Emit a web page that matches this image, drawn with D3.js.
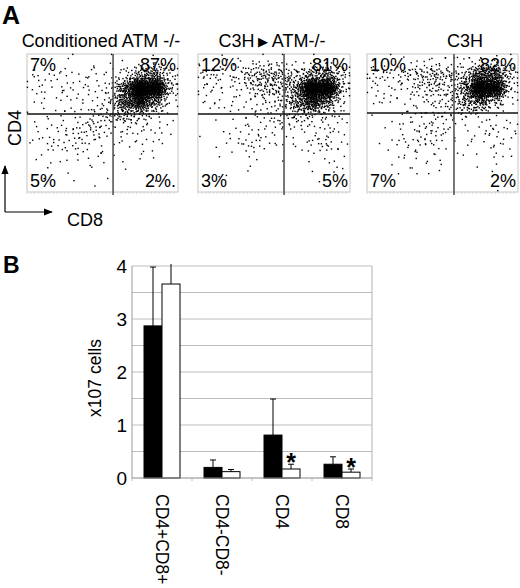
<!DOCTYPE html>
<html>
<head>
<meta charset="utf-8">
<script src="https://cdn.jsdelivr.net/npm/d3@7"></script>
<style>
  body { margin: 0; background: #fff; }
  svg { display: block; font-family: Arial, "Liberation Sans", sans-serif; }
</style>
</head>
<body>
<div id="chart"></div>
<script>
// ---- panel A: flow cytometry plots, event counts per 10x10 grid cell (row 0 = top)
const panelTitles = ['Conditioned ATM -/-', 'C3H', 'C3H'];
const quadLabels = [
  ['7%', '87%', '5%', '2%.'],
  ['12%', '81%', '3%', '5%'],
  ['10%', '82%', '7%', '2%']
];
const gateX = [5.7, 5.66, 5.76];
const gateY = [4.35, 4.35, 4.28];

const densityATM = [
  [0, 0, 1, 1, 1, 2, 1, 1, 2, 1],
  [6, 5, 6, 4, 4, 5, 10, 45, 70, 12],
  [6, 4, 5, 5, 6, 8, 90, 440, 360, 20],
  [3, 2, 3, 4, 5, 12, 110, 190, 55, 4],
  [2, 3, 3, 5, 10, 20, 35, 14, 6, 2],
  [2, 4, 6, 14, 16, 8, 5, 6, 4, 2],
  [2, 6, 8, 8, 6, 3, 3, 4, 3, 1],
  [1, 3, 3, 3, 2, 2, 1, 2, 1, 0],
  [0, 2, 1, 1, 1, 1, 1, 0, 0, 0],
  [0, 0, 0, 1, 1, 0, 0, 0, 1, 0]
];
const densityChimera = [
  [1, 2, 2, 2, 3, 3, 2, 2, 3, 1],
  [14, 8, 10, 30, 45, 40, 22, 45, 70, 20],
  [8, 6, 6, 18, 35, 30, 60, 400, 350, 15],
  [3, 3, 4, 6, 8, 15, 70, 170, 60, 6],
  [1, 2, 3, 4, 8, 14, 20, 12, 8, 3],
  [1, 1, 4, 6, 6, 4, 4, 6, 8, 3],
  [1, 1, 3, 12, 5, 2, 2, 8, 12, 3],
  [0, 1, 2, 2, 1, 1, 1, 2, 4, 1],
  [0, 1, 0, 1, 0, 0, 0, 1, 2, 1],
  [0, 0, 0, 0, 0, 0, 0, 0, 1, 0]
];
const densityC3H = [
  [2, 3, 3, 3, 3, 3, 3, 2, 3, 1],
  [12, 8, 14, 30, 35, 25, 30, 110, 110, 18],
  [6, 5, 8, 14, 20, 20, 55, 400, 280, 10],
  [3, 3, 4, 6, 10, 15, 50, 75, 15, 3],
  [1, 1, 3, 6, 10, 8, 8, 5, 3, 1],
  [0, 1, 4, 8, 12, 5, 2, 4, 8, 4],
  [0, 3, 7, 10, 8, 2, 1, 3, 6, 3],
  [0, 1, 3, 4, 3, 1, 1, 2, 3, 2],
  [0, 0, 1, 2, 1, 1, 0, 0, 1, 0],
  [0, 0, 0, 0, 0, 0, 0, 0, 1, 0]
];
const densities = [densityATM, densityChimera, densityC3H];

// ---- panel B: bar chart
const groups = ['CD4+CD8+', 'CD4-CD8-', 'CD4', 'CD8'];
const atmValues = [2.87, 0.20, 0.81, 0.26];
const atmErrors = [1.11, 0.14, 0.68, 0.14];
const c3hValues = [3.66, 0.12, 0.17, 0.11];
const c3hErrors = [0.45, 0.04, 0.09, 0.06];
const significant = [false, false, true, true];
const yTicks = [0, 1, 2, 3, 4];

const W = 520, H = 588;
const svg = d3.select('#chart').append('svg').attr('width', W).attr('height', H);

// panel letters
svg.append('text').attr('x', 2).attr('y', 24).attr('font-size', 25).attr('font-weight', 'bold').text('A');
svg.append('text').attr('x', 3).attr('y', 273).attr('font-size', 23).attr('font-weight', 'bold').text('B');

// halton sequence, used to lay out the events of a cell deterministically
function halton(i, b) {
  let f = 1, r = 0;
  while (i > 0) { f /= b; r += f * (i % b); i = Math.floor(i / b); }
  return r;
}

const boxes = [
  { x0: 27, x1: 178, titleX: 101 },
  { x0: 198, x1: 350, titleX: 272 },
  { x0: 367, x1: 518, titleX: 465 }
];
const boxTop = 54, boxBottom = 192;
const kernel = 0.4; // smoothing width, in cells

boxes.forEach(function (b, p) {
  const x = d3.scaleLinear().domain([0, 10]).range([b.x0, b.x1]);
  const y = d3.scaleLinear().domain([0, 10]).range([boxTop, boxBottom]);
  const g = svg.append('g');

  g.append('rect').attr('x', b.x0).attr('y', boxTop)
    .attr('width', b.x1 - b.x0).attr('height', boxBottom - boxTop)
    .attr('fill', 'none').attr('stroke', '#c4c4c4').attr('stroke-width', 1);

  // bottom log ticks
  const ticks = d3.range(0, 10, 0.25);
  g.selectAll('.tk').data(ticks).enter().append('line')
    .attr('x1', d => x(d)).attr('x2', d => x(d))
    .attr('y1', boxBottom).attr('y2', boxBottom + 2)
    .attr('stroke', '#d0d0d0').attr('stroke-width', 0.8);

  const pts = [];
  densities[p].forEach(function (row, r) {
    row.forEach(function (n, c) {
      const off = (r * 10 + c) * 17 + p * 311;
      for (let i = 0; i < n; i++) {
        const u1 = Math.max(1e-4, halton(i + 1 + off, 2));
        const u2 = halton(i + 1 + off, 3);
        const rad = Math.sqrt(-2 * Math.log(u1)) * kernel;
        const px = Math.max(0.03, Math.min(9.97, c + 0.5 + rad * Math.cos(2 * Math.PI * u2)));
        const py = Math.max(0.03, Math.min(9.97, r + 0.5 + rad * Math.sin(2 * Math.PI * u2)));
        pts.push([px, py]);
      }
    });
  });
  g.selectAll('.ev').data(pts).enter().append('rect')
    .attr('x', d => x(d[0]) - 0.7).attr('y', d => y(d[1]) - 0.7)
    .attr('width', 1.4).attr('height', 1.4).attr('fill', '#000');

  // quadrant gates
  g.append('line').attr('x1', x(gateX[p])).attr('x2', x(gateX[p]))
    .attr('y1', boxTop).attr('y2', boxBottom + 3)
    .attr('stroke', '#555').attr('stroke-width', 1.6);
  g.append('line').attr('x1', b.x0).attr('x2', b.x1)
    .attr('y1', y(gateY[p])).attr('y2', y(gateY[p]))
    .attr('stroke', '#111').attr('stroke-width', 1.4);

  const lbl = quadLabels[p];
  const fs = 18;
  g.append('text').attr('x', b.x0 + 3).attr('y', boxTop + 17).attr('font-size', fs).text(lbl[0]);
  g.append('text').attr('x', b.x1 - 2).attr('y', boxTop + 17).attr('font-size', fs)
    .attr('text-anchor', 'end').text(lbl[1]);
  g.append('text').attr('x', b.x0 + 3).attr('y', boxBottom - 5).attr('font-size', fs).text(lbl[2]);
  g.append('text').attr('x', b.x1 - 2).attr('y', boxBottom - 5).attr('font-size', fs)
    .attr('text-anchor', 'end').text(lbl[3]);

  const t = svg.append('text').attr('x', b.titleX).attr('y', 47)
    .attr('font-size', 18).attr('text-anchor', 'middle');
  if (p === 1) {
    t.append('tspan').text('C3H');
    t.append('tspan').attr('font-size', 13).attr('dy', -1).text(' \u25B6 ');
    t.append('tspan').attr('dy', 1).text('ATM-/-');
  } else {
    t.text(panelTitles[p]);
  }
});

// CD4 / CD8 axis arrows
svg.append('defs').append('marker').attr('id', 'arrowhead-single')
  .attr('viewBox', '0 0 10 10').attr('refX', 9).attr('refY', 5)
  .attr('markerWidth', 9).attr('markerHeight', 9).attr('orient', 'auto')
  .attr('markerUnits', 'userSpaceOnUse')
  .append('path').attr('d', 'M0,1 L10,5 L0,9 Z').attr('fill', '#000');
svg.append('line').attr('x1', 5).attr('y1', 212).attr('x2', 5).attr('y2', 166)
  .attr('stroke', '#000').attr('stroke-width', 1.2).attr('marker-end', 'url(#arrowhead-single)');
svg.append('line').attr('x1', 5).attr('y1', 212).attr('x2', 52).attr('y2', 212)
  .attr('stroke', '#000').attr('stroke-width', 1.2).attr('marker-end', 'url(#arrowhead-single)');
svg.append('text').attr('transform', 'translate(21,128) rotate(-90)')
  .attr('text-anchor', 'middle').attr('font-size', 18).text('CD4');
svg.append('text').attr('x', 67).attr('y', 226).attr('font-size', 18).text('CD8');

// ---- bar chart
const plot = { left: 132, right: 372, top: 266, bottom: 478 };
const xb = d3.scaleBand().domain(groups).range([plot.left, plot.right])
  .paddingInner(0.4).paddingOuter(0.2);
const yb = d3.scaleLinear().domain([0, 4]).range([plot.bottom, plot.top]);
const bw = xb.bandwidth() / 2;

const bg = svg.append('g');
bg.selectAll('.grid').data(d3.range(0.5, 4.01, 0.5)).enter().append('line')
  .attr('x1', plot.left).attr('x2', plot.right)
  .attr('y1', d => yb(d)).attr('y2', d => yb(d))
  .attr('stroke', '#bdbdbd').attr('stroke-width', 1.2);
bg.append('line').attr('x1', plot.right).attr('x2', plot.right)
  .attr('y1', plot.top).attr('y2', plot.bottom).attr('stroke', '#bdbdbd').attr('stroke-width', 1.2);
bg.append('line').attr('x1', plot.left).attr('x2', plot.left)
  .attr('y1', plot.top).attr('y2', plot.bottom).attr('stroke', '#999').attr('stroke-width', 1);

const yAxis = d3.axisLeft(yb).tickValues(yTicks).tickSize(0).tickPadding(5).tickFormat(d3.format('d'));
const ya = bg.append('g').attr('transform', 'translate(' + plot.left + ',0)').call(yAxis);
ya.select('.domain').remove();
ya.selectAll('text').attr('font-size', 19).attr('font-family', 'Arial, "Liberation Sans", sans-serif')
  .attr('fill', '#000');

const yl = svg.append('text').attr('transform', 'translate(101,378) rotate(-90)')
  .attr('text-anchor', 'middle').attr('font-size', 17.5);
yl.append('tspan').text('x10');
yl.append('tspan').text('7');
yl.append('tspan').text(' cells');

const clipTop = yb(4) - 2;
function drawSeries(values, errors, dx, fill) {
  bg.selectAll(null).data(groups).enter().append('rect')
    .attr('x', d => xb(d) + dx).attr('y', (d, i) => yb(values[i]))
    .attr('width', bw).attr('height', (d, i) => yb(0) - yb(values[i]))
    .attr('fill', fill).attr('stroke', '#000').attr('stroke-width', 1);
  bg.selectAll(null).data(groups).enter().append('line')
    .attr('x1', d => xb(d) + dx + bw / 2).attr('x2', d => xb(d) + dx + bw / 2)
    .attr('y1', (d, i) => yb(values[i]))
    .attr('y2', (d, i) => Math.max(clipTop, yb(values[i] + errors[i])))
    .attr('stroke', '#000').attr('stroke-width', 1);
  bg.selectAll(null).data(groups.filter((d, i) => yb(values[i] + errors[i]) >= clipTop))
    .enter().append('line')
    .attr('x1', d => xb(d) + dx + bw / 2 - 3).attr('x2', d => xb(d) + dx + bw / 2 + 3)
    .attr('y1', d => yb(values[groups.indexOf(d)] + errors[groups.indexOf(d)]))
    .attr('y2', d => yb(values[groups.indexOf(d)] + errors[groups.indexOf(d)]))
    .attr('stroke', '#000').attr('stroke-width', 1);
}
drawSeries(atmValues, atmErrors, 0, '#000');
drawSeries(c3hValues, c3hErrors, bw, '#fff');

// baseline and category ticks
bg.append('line').attr('x1', plot.left).attr('x2', plot.right)
  .attr('y1', plot.bottom).attr('y2', plot.bottom).attr('stroke', '#888').attr('stroke-width', 1);
bg.selectAll('.ct').data(d3.range(groups.length + 1)).enter().append('line')
  .attr('x1', i => plot.left + i * xb.step()).attr('x2', i => plot.left + i * xb.step())
  .attr('y1', plot.bottom).attr('y2', plot.bottom + 3).attr('stroke', '#bbb');

// significance
bg.selectAll('.star').data(groups.filter((d, i) => significant[i])).enter().append('text')
  .attr('x', d => xb(d) + bw * 1.5)
  .attr('y', d => yb(c3hValues[groups.indexOf(d)] + c3hErrors[groups.indexOf(d)]) + 7)
  .attr('text-anchor', 'middle').attr('font-size', 25).attr('font-weight', 'bold').text('*');

// category labels, written downwards
bg.selectAll('.cat').data(groups).enter().append('text')
  .attr('transform', d => 'translate(' + (xb(d) + xb.bandwidth() / 2) + ',494) rotate(90)')
  .attr('dominant-baseline', 'central').attr('font-size', 17.5).text(d => d);
</script>
</body>
</html>
